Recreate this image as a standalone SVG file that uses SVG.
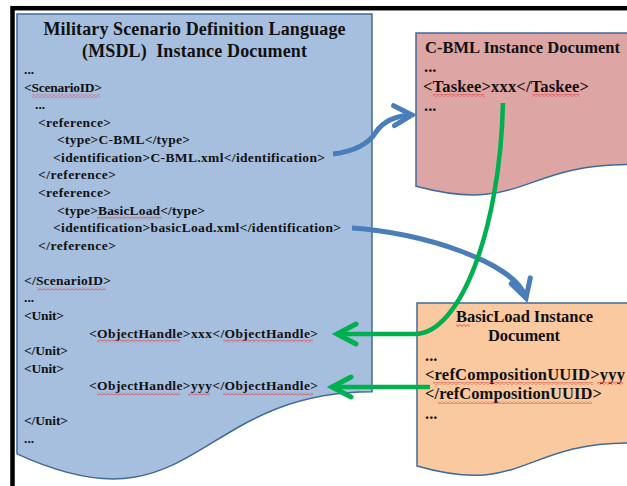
<svg xmlns="http://www.w3.org/2000/svg" width="627" height="486" viewBox="0 0 627 486">
<style>
.doc{stroke:#41699B;stroke-width:1.5}
.t{font-family:"Liberation Serif","Times New Roman",serif;font-weight:bold;fill:#111}
.b{font-size:13.5px}
.h{font-size:18px}
.m{font-size:16.5px}
.blue{fill:none;stroke:#4A7EBB;stroke-width:5}
.green{fill:none;stroke:#00B050;stroke-width:4.5}
.sq{fill:url(#sq)}
</style>
<defs>
<pattern id="sq" width="4" height="3" patternUnits="userSpaceOnUse"><path d="M0,0.6 L2,2.4 L4,0.6" fill="none" stroke="#E03A3A" stroke-width="0.8"/></pattern>
<marker id="ab" markerUnits="userSpaceOnUse" orient="auto" refX="0" refY="0" markerWidth="40" markerHeight="40" viewBox="-30 -20 40 40" overflow="visible"><path d="M-18,-10 L0,0 L-18,10" fill="none" stroke="#4A7EBB" stroke-width="5" stroke-linecap="round" stroke-linejoin="miter"/></marker>
<marker id="ag" markerUnits="userSpaceOnUse" orient="auto" refX="0" refY="0" markerWidth="40" markerHeight="40" viewBox="-30 -20 40 40" overflow="visible"><path d="M-19,-10 L0,0 L-19,10" fill="none" stroke="#00B050" stroke-width="5" stroke-linecap="round" stroke-linejoin="miter"/></marker>
</defs>
<rect x="0" y="0" width="627" height="486" fill="#fff"/>
<rect x="12.5" y="8.2" width="700" height="600" fill="none" stroke="#000" stroke-width="4.5"/>

<g id="msdl">
<path class="doc" fill="#A7BFDE" d="M17,14 H372 V391.7 C194.5,391.7 194.5,535.6 17,453.9 Z"/>
<text class="t h" x="194.5" y="35" text-anchor="middle" textLength="302" lengthAdjust="spacing">Military Scenario Definition Language</text>
<text class="t h" x="194.5" y="57" text-anchor="middle" xml:space="preserve" textLength="225" lengthAdjust="spacing">(MSDL)  Instance Document</text>
<text class="t b" x="24" y="74">...</text>
<text class="t b" x="24" y="91.6" textLength="78" lengthAdjust="spacing">&lt;ScenarioID&gt;</text>
<text class="t b" x="35" y="109.1">...</text>
<text class="t b" x="38" y="126.7" textLength="73" lengthAdjust="spacing">&lt;reference&gt;</text>
<text class="t b" x="57" y="144.3" textLength="133" lengthAdjust="spacing">&lt;type&gt;C-BML&lt;/type&gt;</text>
<text class="t b" x="53" y="161.9" textLength="272" lengthAdjust="spacing">&lt;identification&gt;C-BML.xml&lt;/identification&gt;</text>
<text class="t b" x="38" y="179.4" textLength="78" lengthAdjust="spacing">&lt;/reference&gt;</text>
<text class="t b" x="38" y="197" textLength="73" lengthAdjust="spacing">&lt;reference&gt;</text>
<text class="t b" x="57" y="214.6" textLength="148" lengthAdjust="spacing">&lt;type&gt;BasicLoad&lt;/type&gt;</text>
<text class="t b" x="53" y="232.1" textLength="288" lengthAdjust="spacing">&lt;identification&gt;basicLoad.xml&lt;/identification&gt;</text>
<text class="t b" x="38" y="249.7" textLength="78" lengthAdjust="spacing">&lt;/reference&gt;</text>
<text class="t b" x="24" y="284.8" textLength="87" lengthAdjust="spacing">&lt;/ScenarioID&gt;</text>
<text class="t b" x="24" y="302.4">...</text>
<text class="t b" x="24" y="320" textLength="40" lengthAdjust="spacing">&lt;Unit&gt;</text>
<text class="t b" x="89" y="337.5" textLength="229" lengthAdjust="spacing">&lt;ObjectHandle&gt;xxx&lt;/ObjectHandle&gt;</text>
<text class="t b" x="24" y="355.1" textLength="44" lengthAdjust="spacing">&lt;/Unit&gt;</text>
<text class="t b" x="24" y="372.7" textLength="40" lengthAdjust="spacing">&lt;Unit&gt;</text>
<text class="t b" x="89" y="390.2" textLength="229" lengthAdjust="spacing">&lt;ObjectHandle&gt;yyy&lt;/ObjectHandle&gt;</text>
<text class="t b" x="24" y="425.4" textLength="44" lengthAdjust="spacing">&lt;/Unit&gt;</text>
<text class="t b" x="24" y="443">...</text>
<rect class="sq" x="32" y="94.5" width="68" height="3"/>
<rect class="sq" x="97" y="216.5" width="65" height="3"/>
<rect class="sq" x="37" y="287.5" width="69" height="3"/>
<rect class="sq" x="97" y="339.5" width="83" height="3"/>
<rect class="sq" x="223" y="339.5" width="90" height="3"/>
<rect class="sq" x="97" y="392.5" width="83" height="3"/>
<rect class="sq" x="188" y="392.5" width="22" height="3"/>
<rect class="sq" x="223" y="392.5" width="90" height="3"/>
</g>

<g id="cbml">
<path class="doc" fill="#DDA5A4" d="M416,33 H628 V164.5 C522,164.5 522,214.6 416,186.2 Z"/>
<text class="t m" x="425" y="53" textLength="195" lengthAdjust="spacing">C-BML Instance Document</text>
<text class="t m" x="424" y="72">...</text>
<text class="t m" x="423" y="92" textLength="166" lengthAdjust="spacing">&lt;Taskee&gt;xxx&lt;/Taskee&gt;</text>
<text class="t m" x="424" y="111">...</text>
<rect class="sq" x="433" y="94" width="52" height="3"/>
<rect class="sq" x="532" y="94" width="48" height="3"/>
</g>

<g id="basicload">
<path class="doc" fill="#FAC9A0" d="M417,303 H629 V442.9 C523,442.9 523,496.3 417,466 Z"/>
<text class="t m" x="524.5" y="322" text-anchor="middle" textLength="137" lengthAdjust="spacing">BasicLoad Instance</text>
<text class="t m" x="524" y="341" text-anchor="middle" textLength="72" lengthAdjust="spacing">Document</text>
<text class="t m" x="425" y="361">...</text>
<text class="t m" x="425" y="380" textLength="200" lengthAdjust="spacing">&lt;refCompositionUUID&gt;yyy</text>
<text class="t m" x="425" y="399" textLength="177" lengthAdjust="spacing">&lt;/refCompositionUUID&gt;</text>
<text class="t m" x="425" y="419">...</text>
<rect class="sq" x="456" y="324" width="14" height="3"/>
<rect class="sq" x="433" y="382" width="160" height="3"/>
<rect class="sq" x="597" y="382" width="26" height="3"/>
<rect class="sq" x="438" y="401" width="154" height="3"/>
</g>

<g id="connectors">
<path class="blue" d="M333,154 Q365,150 376,132 Q387,116 412,115" marker-end="url(#ab)"/>
<path class="blue" d="M352,228 C420,232 515,262 526,298" marker-end="url(#ab)"/>
<path class="green" d="M503,103 C500,230 460,334 415,334 L337,334" marker-end="url(#ag)"/>
<path class="green" d="M430,387 L332,387" marker-end="url(#ag)"/>
</g>
</svg>
